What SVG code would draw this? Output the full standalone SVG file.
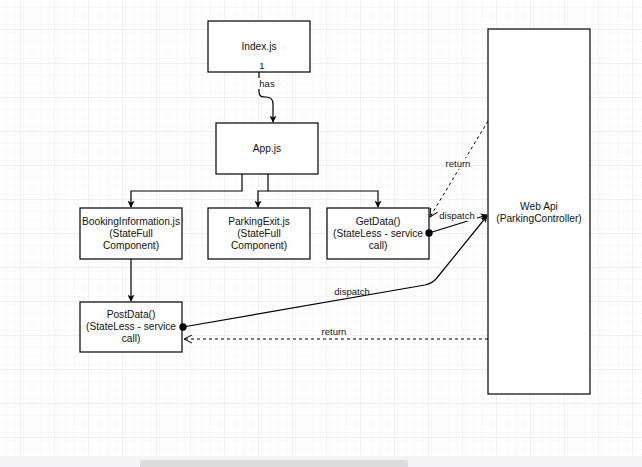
<svg xmlns="http://www.w3.org/2000/svg" width="642" height="467" viewBox="0 0 642 467">
  <style>
    .box { fill: #ffffff; stroke: #000000; stroke-width: 1.2; }
    .t { font-family: "Liberation Sans", Arial, sans-serif; font-size: 10.2px; fill: #111111; text-anchor: middle; }
    .lbl { font-family: "Liberation Sans", Arial, sans-serif; font-size: 9.5px; fill: #111111; text-anchor: middle; }
    .edge { fill: none; stroke: #000000; stroke-width: 1.2; }
    .dash { fill: none; stroke: #000000; stroke-width: 1; stroke-dasharray: 3 3; }
  </style>
  <defs>
    <pattern id="minor" x="20" y="29" width="8.5" height="8.5" patternUnits="userSpaceOnUse">
      <path d="M0,0 H8.5 M0,0 V8.5" fill="none" stroke="#f1f1f1" stroke-width="1"/>
    </pattern>
    <pattern id="major" x="20" y="29" width="34" height="34" patternUnits="userSpaceOnUse">
      <rect width="34" height="34" fill="url(#minor)"/>
      <path d="M0,0 H34 M0,0 V34" fill="none" stroke="#e2e2e2" stroke-width="1"/>
    </pattern>
    <marker id="arrow" viewBox="0 0 10 10" refX="9" refY="5" markerWidth="7" markerHeight="7" orient="auto" markerUnits="userSpaceOnUse">
      <path d="M0,0 L10,5 L0,10 L2.5,5 Z" fill="#000000"/>
    </marker>
    <marker id="open" viewBox="0 0 10 10" refX="9" refY="5" markerWidth="9" markerHeight="9" orient="auto" markerUnits="userSpaceOnUse">
      <path d="M0,0.5 L9,5 L0,9.5" fill="none" stroke="#000000" stroke-width="1.1"/>
    </marker>
    <marker id="dot" viewBox="0 0 10 10" refX="5" refY="5" markerWidth="8" markerHeight="8" markerUnits="userSpaceOnUse">
      <circle cx="5" cy="5" r="4.6" fill="#000000"/>
    </marker>
  </defs>

  <!-- canvas grid -->
  <rect x="0" y="0" width="642" height="456" fill="#ffffff"/>
  <rect x="0" y="0" width="642" height="456" fill="url(#major)"/>

  <!-- horizontal scrollbar -->
  <rect x="0" y="456" width="642" height="11" fill="#f4f4f6"/>
  <rect x="140" y="460" width="268" height="9" rx="3" fill="#dcdcdc"/>

  <g id="index-js">
    <rect class="box" x="208" y="21" width="102" height="51"/>
    <text class="t" x="259" y="50">Index.js</text>
  </g>

  <g id="app-js">
    <rect class="box" x="216" y="123" width="102" height="51"/>
    <text class="t" x="267" y="152">App.js</text>
  </g>

  <g id="booking-information">
    <rect class="box" x="80" y="208" width="102" height="51"/>
    <text class="t" x="131" y="225">BookingInformation.js</text>
    <text class="t" x="131" y="237">(StateFull</text>
    <text class="t" x="131" y="249">Component)</text>
  </g>

  <g id="parking-exit">
    <rect class="box" x="208" y="208" width="102" height="51"/>
    <text class="t" x="259" y="225">ParkingExit.js</text>
    <text class="t" x="259" y="237">(StateFull</text>
    <text class="t" x="259" y="249">Component)</text>
  </g>

  <g id="get-data">
    <rect class="box" x="327" y="208" width="102" height="51"/>
    <text class="t" x="378" y="225">GetData()</text>
    <text class="t" x="378" y="237">(StateLess - service</text>
    <text class="t" x="378" y="249">call)</text>
  </g>

  <g id="post-data">
    <rect class="box" x="80" y="302" width="102" height="50"/>
    <text class="t" x="131" y="318">PostData()</text>
    <text class="t" x="131" y="330">(StateLess - service</text>
    <text class="t" x="131" y="342">call)</text>
  </g>

  <g id="web-api">
    <rect class="box" x="488" y="29" width="102" height="365"/>
    <text class="t" x="539" y="210">Web Api</text>
    <text class="t" x="539" y="222">(ParkingController)</text>
  </g>

  <g id="connectors">
    <!-- Index.js has App.js -->
    <path class="edge" d="M259,72 L259,92 C259,97 262,97 266,97 C271,97 273,99 273,104 L273,122" marker-end="url(#arrow)"/>
    <!-- App.js to child components -->
    <path class="edge" d="M242,174 L242,191 L131,191 L131,207" marker-end="url(#arrow)"/>
    <path class="edge" d="M268,174 L268,191 L258,191 L258,207" marker-end="url(#arrow)"/>
    <path class="edge" d="M268,191 L378,191 L378,207" marker-end="url(#arrow)"/>
    <!-- BookingInformation to PostData -->
    <path class="edge" d="M131,259 L131,301" marker-end="url(#arrow)"/>
    <!-- GetData dispatch -->
    <path class="edge" d="M429,233 L487,215" marker-start="url(#dot)" marker-end="url(#arrow)"/>
    <!-- GetData return -->
    <path class="dash" d="M488,121 L430,217" marker-end="url(#open)"/>
    <!-- PostData dispatch -->
    <path class="edge" d="M183,327 L425,285 C430,284 433,282 436,279 L487,216" marker-start="url(#dot)" marker-end="url(#arrow)"/>
    <!-- PostData return -->
    <path class="dash" d="M488,339 L184,339" marker-end="url(#open)"/>
  </g>

  <g id="connector-labels">
    <text class="lbl" x="262" y="69">1</text>
    <rect x="258" y="78" width="17" height="11" fill="#ffffff"/>
    <text class="lbl" x="267" y="87">has</text>
    <rect x="443" y="158" width="29" height="11" fill="#ffffff" fill-opacity="0.85"/>
    <text class="lbl" x="458" y="167">return</text>
    <rect x="439" y="210" width="38" height="11" fill="#ffffff"/>
    <text class="lbl" x="457" y="219">dispatch</text>
    <text class="lbl" x="352" y="295">dispatch</text>
    <text class="lbl" x="334" y="335">return</text>
  </g>
</svg>
